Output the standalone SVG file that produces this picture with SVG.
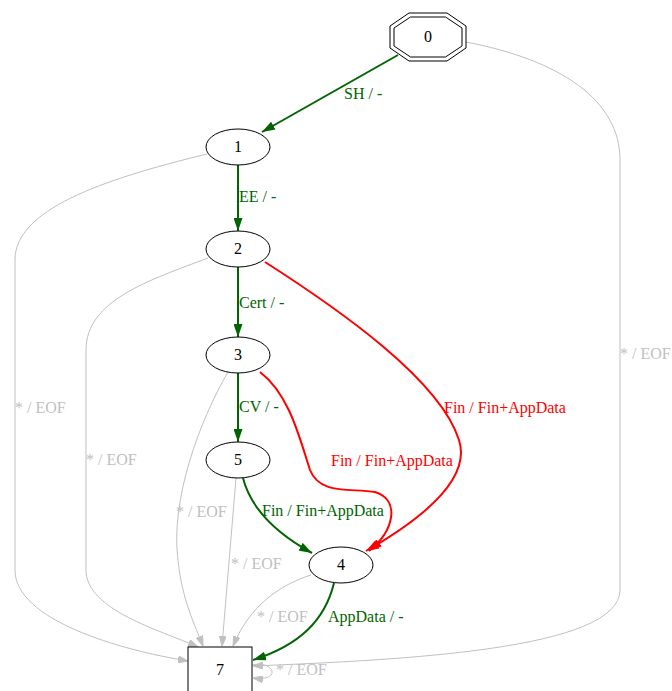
<svg xmlns="http://www.w3.org/2000/svg" width="672" height="691" viewBox="0 0 672 691">
<style>
text{font-family:"Liberation Serif","Times New Roman",serif;font-size:16px}
.n{fill:#fff;stroke:#000;stroke-width:1}
.nt{text-anchor:middle;fill:#000}
.g{fill:none;stroke:#006400;stroke-width:2}
.r{fill:none;stroke:#ff0000;stroke-width:2}
.y{fill:none;stroke:#c0c0c0;stroke-width:1}
.lg{fill:#006400}.lr{fill:#ff0000}.ly{fill:#c0c0c0}
</style>
<defs>
<marker id="ag" viewBox="0 0 10 7" refX="10" refY="3.5" markerWidth="13" markerHeight="9" markerUnits="userSpaceOnUse" orient="auto" preserveAspectRatio="none"><path d="M0,0L10,3.5L0,7z" fill="#006400"/></marker>
<marker id="ar" viewBox="0 0 10 7" refX="10" refY="3.5" markerWidth="13" markerHeight="9" markerUnits="userSpaceOnUse" orient="auto" preserveAspectRatio="none"><path d="M0,0L10,3.5L0,7z" fill="#ff0000"/></marker>
<marker id="ay" viewBox="0 0 10 7" refX="10" refY="3.5" markerWidth="10" markerHeight="7" markerUnits="userSpaceOnUse" orient="auto"><path d="M0,0L10,3.5L0,7z" fill="#c0c0c0" stroke="#c0c0c0"/></marker>
</defs>
<rect width="672" height="691" fill="#fff"/>
<g id="edges">
<path class="y" marker-end="url(#ay)" d="M466,42 C560,60 620,100 620,160 L620,590 C620,650 400,660 253,666"/>
<path class="y" marker-end="url(#ay)" d="M207,154 C100,180 15,210 15,260 L15,570 C15,620 120,650 188,661"/>
<path class="y" marker-end="url(#ay)" d="M208,258 C150,280 86,300 86,350 L86,570 C86,610 160,630 198,647"/>
<path class="y" marker-end="url(#ay)" d="M228,372 C200,420 170,500 178,560 C182,600 195,625 203,646"/>
<path class="y" marker-end="url(#ay)" d="M236,478 L222,646"/>
<path class="y" marker-end="url(#ay)" d="M311,575 C280,585 250,605 233,646"/>
<path class="y" marker-end="url(#ay)" d="M252,665 C275,660 282,682 253,678"/>
<path class="g" marker-end="url(#ag)" d="M398,55 L262,132"/>
<path class="g" marker-end="url(#ag)" d="M238,165 L238,231"/>
<path class="g" marker-end="url(#ag)" d="M238,267 L238,337"/>
<path class="g" marker-end="url(#ag)" d="M238,373 L238,442"/>
<path class="g" marker-end="url(#ag)" d="M243,478 C250,505 270,530 312,553"/>
<path class="g" marker-end="url(#ag)" d="M334,583 C325,620 300,645 253,660"/>
<path class="r" marker-end="url(#ar)" d="M265,262 C340,310 440,380 459,440 C472,480 420,520 366,551"/>
<path class="r" marker-end="url(#ar)" d="M260,372 C290,395 300,440 310,470 C320,495 350,488 375,492 C400,500 395,530 369,551"/>
<text class="lg" x="344" y="99">SH / -</text>
<text class="lg" x="239" y="202">EE / -</text>
<text class="lg" x="239" y="308">Cert / -</text>
<text class="lg" x="239" y="412">CV / -</text>
<text class="lg" x="262" y="516">Fin / Fin+AppData</text>
<text class="lg" x="328" y="622">AppData / -</text>
<text class="lr" x="444" y="413">Fin / Fin+AppData</text>
<text class="lr" x="331" y="466">Fin / Fin+AppData</text>
<text class="ly" x="620" y="359">* / EOF</text>
<text class="ly" x="15" y="413">* / EOF</text>
<text class="ly" x="86" y="465">* / EOF</text>
<text class="ly" x="176" y="517">* / EOF</text>
<text class="ly" x="231" y="569">* / EOF</text>
<text class="ly" x="257" y="622">* / EOF</text>
<text class="ly" x="276" y="675">* / EOF</text>
</g>
<g id="node0">
<polygon class="n" points="409,13 447,13 466,26 466,48 447,61 409,61 390,48 390,26"/>
<polygon class="n" points="410.5,17 445.5,17 462,28 462,46 445.5,57 410.5,57 394,46 394,28"/>
<text class="nt" x="428" y="42">0</text>
</g>
<g id="node1"><ellipse class="n" cx="238" cy="147" rx="32" ry="18"/><text class="nt" x="238" y="152">1</text></g>
<g id="node2"><ellipse class="n" cx="238" cy="249" rx="32" ry="18"/><text class="nt" x="238" y="254">2</text></g>
<g id="node3"><ellipse class="n" cx="238" cy="355" rx="32" ry="18"/><text class="nt" x="238" y="360">3</text></g>
<g id="node5"><ellipse class="n" cx="238" cy="460" rx="32" ry="18"/><text class="nt" x="238" y="465">5</text></g>
<g id="node4"><ellipse class="n" cx="341" cy="565" rx="32" ry="18"/><text class="nt" x="341" y="570">4</text></g>
<g id="node7"><rect class="n" x="188" y="647" width="64" height="46"/><text class="nt" x="220" y="675">7</text></g>
</svg>
